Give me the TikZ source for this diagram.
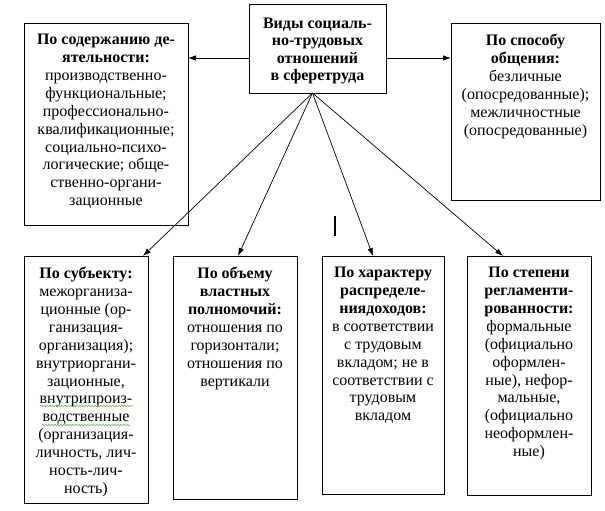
\documentclass[tikz,border=0pt]{standalone}
\usepackage{fontspec}
\setmainfont{Liberation Serif}
\usetikzlibrary{arrows.meta,calc,decorations.pathmorphing}
\definecolor{spellgreen}{rgb}{0.45,0.72,0.35}
\begin{document}
\begin{tikzpicture}[x=1pt,y=-1pt,
  box/.style={draw,line width=0.8pt,inner sep=0pt,outer sep=0pt},
  txt/.style={anchor=north,align=center,inner sep=0pt,font=\fontsize{16}{17.9}\selectfont},
  arr/.style={line width=0.7pt,-{Latex[length=8pt,width=5.5pt]}},
  wavy/.style={spellgreen,line width=0.6pt,decorate,decoration={snake,amplitude=0.8pt,segment length=3pt}}]
\useasboundingbox (0,0) rectangle (605,511);
% boxes
\node[box,minimum width=137pt,minimum height=89pt] (top) at (317.5,48.5) {};
\node[box,minimum width=164pt,minimum height=202pt] (lbox) at (106,124) {};
\node[box,minimum width=149pt,minimum height=177pt] (rbox) at (525.5,111.5) {};
\node[box,minimum width=124pt,minimum height=247pt] (b1) at (86,379.5) {};
\node[box,minimum width=124pt,minimum height=243pt] (b2) at (235,377.5) {};
\node[box,minimum width=122pt,minimum height=238pt] (b3) at (383,375) {};
\node[box,minimum width=124pt,minimum height=239pt] (b4) at (529,375.5) {};
% texts
\node[align=center,inner sep=0pt,font=\fontsize{16}{17.3}\selectfont\bfseries] (tt) at ($(top.center)+(0,2.5)$)
  {Виды социаль-\\но-трудовых\\отношений\\в сферетруда};
\node[txt] (lt) at ($(lbox.north)+(0,11)$) {\textbf{По содержанию де-}\\\textbf{ятельности:}\\производственно-\\функциональные;\\профессионально-\\квалификационные;\\социально-психо-\\логические; обще-\\ственно-органи-\\зационные};
\node[txt] (rt) at ($(rbox.north)+(0,11)$) {\textbf{По способу}\\\textbf{общения:}\\безличные\\(опосредованные);\\межличностные\\(опосредованные)};
\node[txt] (t1) at ($(b1.north)+(0,11)$) {\textbf{По субъекту:}\\межорганиза-\\ционные (ор-\\ганизация-\\организация);\\внутриоргани-\\зационные,\\внутрипроиз-\\водственные\\(организация-\\личность, лич-\\ность-лич-\\ность)};
\node[txt] (t2) at ($(b2.north)+(0,11)$) {\textbf{По объему}\\\textbf{властных}\\\textbf{полномочий:}\\отношения по\\горизонтали;\\отношения по\\вертикали};
\node[txt] (t3) at ($(b3.north)+(0,11)$) {\textbf{По характеру}\\\textbf{распределе-}\\\textbf{ниядоходов:}\\в соответствии\\с трудовым\\вкладом; не в\\соответствии с\\трудовым\\вкладом};
\node[txt] (t4) at ($(b4.north)+(0,11)$) {\textbf{По степени}\\\textbf{регламенти-}\\\textbf{рованности:}\\формальные\\(официально\\оформлен-\\ные), нефор-\\мальные,\\(официально\\неоформлен-\\ные)};
% connectors
\coordinate (hl) at ($(top.west)+(0,9.5)$);
\coordinate (hr) at ($(top.east)+(0,9.5)$);
\draw[arr] (hl) -- (hl -| lbox.east);
\draw[arr] (hr) -- (hr -| rbox.west);
\coordinate (src) at ($(top.south)+(-5,0)$);
\draw[arr] (src) -- ($(b1.north east)+(-5,0)$);
\draw[arr] (src) -- ($(b2.north)+(3,0)$);
\draw[arr] (src) -- ($(b3.north)+(-10,0)$);
\draw[arr] (src) -- ($(b4.north)+(-26,0)$);
% stray mark
\draw[line width=1.5pt] (335,216) -- (335,236);
% spell-check underlines
\draw[wavy] (40,406) -- (133,406);
\draw[wavy] (42,425) -- (130,425);
\end{tikzpicture}
\end{document}
